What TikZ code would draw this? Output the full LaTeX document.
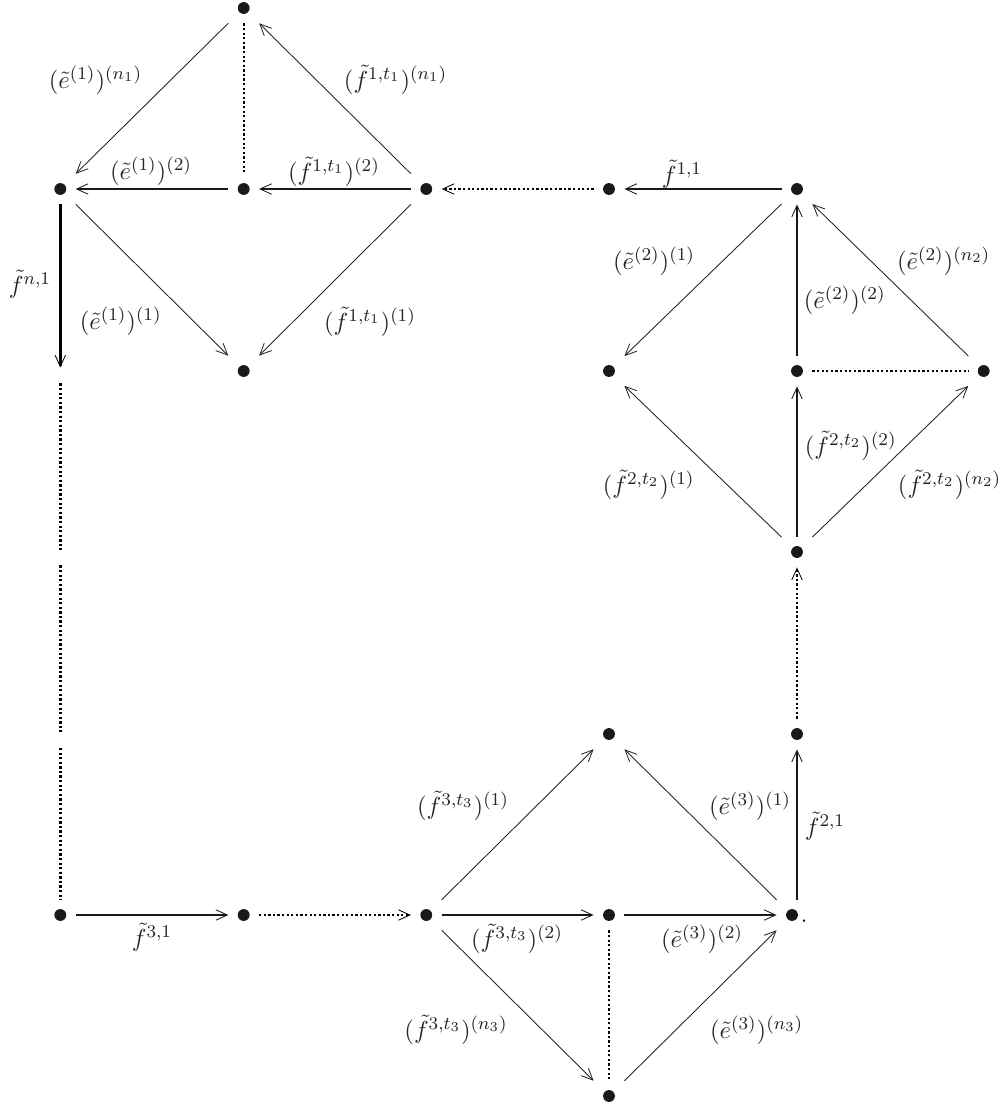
\documentclass[tikz,border=0pt]{standalone}
\usetikzlibrary{arrows.meta}
\tikzset{
	dotnode/.style={rectangle, inner sep=0pt, minimum size=14.4pt, path picture={\fill[black!90] (path picture bounding box.center) circle (2.85pt);}},
	gapnode/.style={rectangle, inner sep=0pt, minimum size=7.2pt},
	thinarr/.style={line width=0.42pt, draw=black!85, -{Straight Barb[length=5.5pt,width=5pt,line width=0.4pt]}},
	thickarr/.style={line width=0.9pt, draw=black!90, -{Straight Barb[length=5.5pt,width=5pt,line width=0.4pt]}},
	heavyarr/.style={line width=1.4pt, -{Straight Barb[length=5.5pt,width=5pt,line width=0.4pt]}},
	dotline/.style={line width=1pt, dash pattern=on 1.1pt off 1.1pt},
	dotheavy/.style={line width=1.5pt, dash pattern=on 1.1pt off 1.1pt},
	dotarr/.style={line width=0.9pt, dash pattern=on 1.1pt off 1.1pt, -{Straight Barb[length=5.5pt,width=5pt,line width=0.4pt]}},
	lbl/.style={inner sep=0pt, text=black!85, scale=1.08, yshift=-0.9pt, font=\fontsize{10.95}{13.6}\selectfont}
}
\begin{document}
\begin{tikzpicture}[x=0.48pt, y=-0.48pt]
		%%%%% START %%%%%
		\useasboundingbox (0, 0) rectangle (1004, 1107);
		
		\node[dotnode] (top1) at (243.7, 8) {};
		\node[dotnode] (left1) at (60.3, 189) {};
		\node[dotnode] (mid1) at (243.7, 189) {};
		\node[dotnode] (right1) at (426.3, 189) {};
		\node[dotnode] (bot1) at (243.7, 371) {};
		\node[dotnode] (link1) at (609, 189) {};
		
		\node[dotnode] (top2) at (797, 189) {};
		\node[dotnode] (left2) at (609, 371) {};
		\node[dotnode] (mid2) at (797, 371) {};
		\node[dotnode] (right2) at (983.7, 371) {};
		\node[dotnode] (bot2) at (797, 552) {};
		\node[dotnode] (link2) at (797, 734) {};
		
		\node[dotnode] (top3) at (609, 734) {};
		\node[dotnode] (left3) at (426.3, 915) {};
		\node[dotnode] (mid3) at (609, 915) {};
		\node[dotnode] (right3) at (792, 915) {};
		\node[dotnode] (bot3) at (609, 1096) {};
		\node[dotnode] (link3) at (243.7, 915) {};
		\node[dotnode] (corner) at (60.3, 915) {};
		\node[lbl] (stop) at (804, 919.5) {.};
		
		\node[gapnode] (gapa) at (60.3, 375.5) {};
		\node[gapnode] (gapb) at (60.3, 557.5) {};
		\node[gapnode] (gapc) at (60.3, 740) {};
		
		\draw[thinarr] (top1) -- (left1);
		\draw[dotline] (top1) -- (mid1);
		\draw[thinarr] (right1) -- (top1);
		\draw[thickarr] (mid1) -- (left1);
		\draw[thickarr] (right1) -- (mid1);
		\draw[thinarr] (left1) -- (bot1);
		\draw[thinarr] (right1) -- (bot1);
		\draw[dotarr] (link1) -- (right1);
		\draw[thickarr] (top2) -- (link1);
		
		\draw[thinarr] (top2) -- (left2);
		\draw[thickarr] (mid2) -- (top2);
		\draw[thinarr] (right2) -- (top2);
		\draw[dotline, line width=1.3pt] (mid2) -- (right2);
		\draw[thinarr] (bot2) -- (left2);
		\draw[thickarr] (bot2) -- (mid2);
		\draw[thinarr] (bot2) -- (right2);
		\draw[dotarr] (link2) -- (bot2);
		
		\draw[thinarr] (left3) -- (top3);
		\draw[thinarr] (right3) -- (top3);
		\draw[thickarr] (right3.north -| link2) -- (link2);
		\draw[thickarr] (left3) -- (mid3);
		\draw[thickarr] (mid3) -- (right3);
		\draw[thinarr] (left3) -- (bot3);
		\draw[thinarr] (bot3) -- (right3);
		\draw[dotline] (mid3) -- (bot3);
		\draw[thickarr] (corner) -- (link3);
		\draw[dotarr] (link3) -- (left3);
		
		\draw[heavyarr] (left1) -- (gapa);
		\draw[dotheavy] (gapa) -- (gapb);
		\draw[dotheavy] (gapb) -- (gapc);
		\draw[dotheavy] (gapc) -- (corner);
		
		\node[lbl] (ena) at (95.5, 78) {$(\tilde e^{(1)})^{(n_1)}$};
		\node[lbl] (fna) at (395.5, 78) {$(\tilde f^{1,t_1})^{(n_1)}$};
		\node[lbl] (eba) at (151, 169) {$(\tilde e^{(1)})^{(2)}$};
		\node[lbl] (fba) at (334, 170) {$(\tilde f^{1,t_1})^{(2)}$};
		\node[lbl] (faa) at (30, 282) {$\tilde f^{n,1}$};
		\node[lbl] (eaa) at (120.7, 319) {$(\tilde e^{(1)})^{(1)}$};
		\node[lbl] (fca) at (370, 320) {$(\tilde f^{1,t_1})^{(1)}$};
		\node[lbl] (fab) at (682, 172) {$\tilde f^{1,1}$};
		
		\node[lbl] (eab) at (654, 259) {$(\tilde e^{(2)})^{(1)}$};
		\node[lbl] (enb) at (943.7, 259) {$(\tilde e^{(2)})^{(n_2)}$};
		\node[lbl] (ebb) at (844.7, 298) {$(\tilde e^{(2)})^{(2)}$};
		\node[lbl] (fbb) at (850.7, 444) {$(\tilde f^{2,t_2})^{(2)}$};
		\node[lbl] (fcb) at (648.7, 483) {$(\tilde f^{2,t_2})^{(1)}$};
		\node[lbl] (fnb) at (949.5, 483) {$(\tilde f^{2,t_2})^{(n_2)}$};
		
		\node[lbl] (fcc) at (463, 804) {$(\tilde f^{3,t_3})^{(1)}$};
		\node[lbl] (eac) at (750, 804) {$(\tilde e^{(3)})^{(1)}$};
		\node[lbl] (fac) at (825, 824) {$\tilde f^{2,1}$};
		\node[lbl] (fbc) at (517, 937) {$(\tilde f^{3,t_3})^{(2)}$};
		\node[lbl] (ebc) at (702, 937) {$(\tilde e^{(3)})^{(2)}$};
		\node[lbl] (fnc) at (456, 1028) {$(\tilde f^{3,t_3})^{(n_3)}$};
		\node[lbl] (enc) at (756.7, 1028) {$(\tilde e^{(3)})^{(n_3)}$};
		\node[lbl] (fad) at (152, 935) {$\tilde f^{3,1}$};
		
		%%%%% END %%%%%
	\end{tikzpicture}
\end{document}
